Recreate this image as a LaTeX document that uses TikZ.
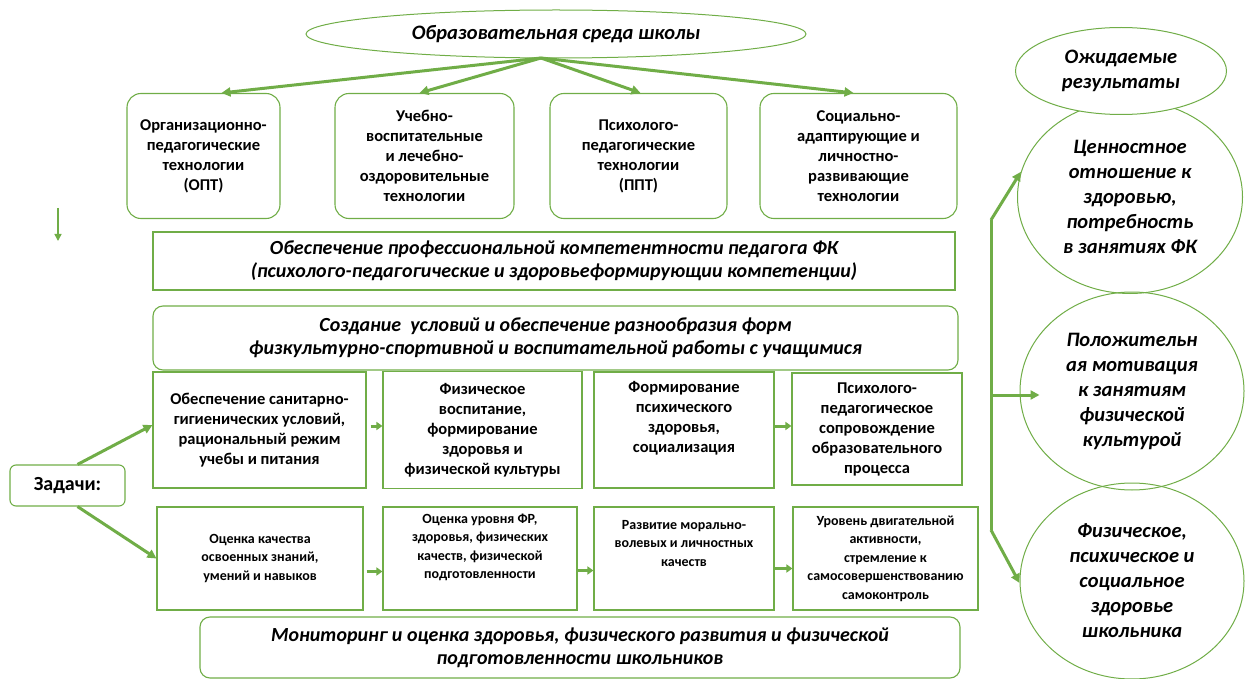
\documentclass[tikz,border=0pt]{standalone}
\usepackage{fontspec}
\setmainfont{Carlito}
\usetikzlibrary{arrows.meta,shapes.geometric,calc}
\definecolor{gr}{RGB}{112,173,71}
\begin{document}
\begin{tikzpicture}[x=1pt,y=-1pt,
  box/.style={draw=gr,line width=1.1pt,inner sep=0pt,align=center,font=\bfseries\fontsize{16.5}{20}\selectfont},
  sbox/.style={box,font=\bfseries\fontsize{14}{18.5}\selectfont},
  rbox/.style={box,rounded corners=14pt},
  band/.style={box,font=\bfseries\itshape\fontsize{20}{23}\selectfont},
  oval/.style={draw=gr,line width=1pt,ellipse,inner sep=0pt,align=center,font=\bfseries\itshape\fontsize{20.5}{25}\selectfont},
  bigarr/.style={draw=gr,line width=3pt,-{Triangle[length=9pt,width=9pt]}},
  smarr/.style={draw=gr,line width=3pt,-{Triangle[length=6pt,width=8pt]}},
  thinarr/.style={draw=gr,line width=1.6pt,-{Triangle[length=7pt,width=7pt]}}
]
\useasboundingbox (0,0) rectangle (1245,679);

% top ellipse
\node[oval,minimum width=500pt,minimum height=48pt,font=\bfseries\itshape\fontsize{20.5}{22}\selectfont] (env) at (556,34) {Образовательная среда школы};

% row 1
\node[rbox,minimum width=153pt,minimum height=125pt] (b1) at (203.5,156) {Организационно-\\педагогические\\технологии\\(ОПТ)};
\node[rbox,minimum width=179pt,minimum height=125pt] (b2) at (424.5,156) {Учебно-\\воспитательные\\и лечебно-\\оздоровительные\\технологии};
\node[rbox,minimum width=177pt,minimum height=125pt] (b3) at (638.5,156) {Психолого-\\педагогические\\технологии\\(ППТ)};
\node[rbox,minimum width=197pt,minimum height=125pt] (b4) at (858.5,156) {Социально-\\адаптирующие и\\личностно-\\развивающие\\технологии};

\coordinate (es1) at (541,58);
\draw[bigarr] (es1) -- ([xshift=18pt]b1.north);
\draw[bigarr] (es1) -- ([xshift=-5pt]b2.north);
\draw[bigarr] (es1) -- ([xshift=2pt]b3.north);
\draw[bigarr] (es1) -- ([xshift=-5pt]b4.north);

% small down arrow on the left
\coordinate (da1) at (58,208);
\coordinate (da2) at (58,241);
\draw[thinarr] (da1) -- (da2);

% bands
\node[band,minimum width=802pt,minimum height=58pt] (p1) at (554,261) {Обеспечение профессиональной компетентности педагога ФК\\(психолого-педагогические и здоровьеформирующии компетенции)};
\node[band,rounded corners=10pt,minimum width=805pt,minimum height=64pt] (p2) at (555.5,338) {Создание\ \ условий и обеспечение разнообразия форм\\физкультурно-спортивной и воспитательной работы с учащимися};

% row C
\node[box,minimum width=213pt,minimum height=116pt] (c1) at (259.5,430) {Обеспечение санитарно-\\гигиенических условий,\\рациональный режим\\учебы и питания};
\node[box,minimum width=199pt,minimum height=117pt] (c2) at (482.5,430) {Физическое\\воспитание,\\формирование\\здоровья и\\физической культуры};
\node[box,minimum width=180pt,minimum height=116pt] (c3) at (684,430) {Формирование\\психического\\здоровья,\\социализация\\[6pt]};
\node[box,minimum width=170pt,minimum height=112pt] (c4) at (877,429) {Психолого-\\педагогическое\\сопровождение\\образовательного\\процесса};
\draw[smarr] ([xshift=4pt,yshift=4pt]c1.east) -- ([yshift=4pt]c2.west);
\draw[smarr] ([yshift=4pt]c3.east) -- ([yshift=3pt]c4.west);

% row D
\node[sbox,minimum width=206pt,minimum height=103pt] (d1) at (260,558.5) {Оценка качества\\освоенных знаний,\\умений и навыков};
\node[sbox,minimum width=194pt,minimum height=103pt] (d2) at (480,558.5) {Оценка уровня ФР,\\здоровья, физических\\качеств, физической\\подготовленности\\[6pt]};
\node[sbox,minimum width=180pt,minimum height=103pt] (d3) at (684,558.5) {Развитие морально-\\волевых и личностных\\качеств\\[12pt]};
\node[sbox,minimum width=185pt,minimum height=103pt] (d4) at (885.5,558.5) {Уровень двигательной\\активности,\\стремление к\\самосовершенствованию\\самоконтроль};
\draw[smarr] ([xshift=3pt,yshift=-13pt]d1.east) -- ([yshift=-13pt]d2.west);
\draw[smarr] ([yshift=-12pt]d2.east) -- ([yshift=-12pt]d3.west);
\draw[smarr] ([yshift=-10pt]d3.east) -- ([yshift=-10pt]d4.west);

% bottom band
\node[band,rounded corners=10pt,minimum width=760pt,minimum height=61pt] (p3) at (580,647.5) {Мониторинг и оценка здоровья, физического развития и физической\\подготовленности школьников};

% tasks
\node[box,rounded corners=6pt,minimum width=115pt,minimum height=41pt,font=\bfseries\fontsize{20}{22}\selectfont] (z) at (67.5,485.5) {Задачи:};
\draw[bigarr] ([xshift=10pt]z.north) -- ([yshift=5pt]c1.west);
\draw[bigarr] ([xshift=10pt]z.south) -- (d1.west);

% right side
\node[oval,minimum width=225pt,minimum height=193pt] (r1) at (1130,197) {Ценностное\\отношение к\\здоровью,\\потребность\\в занятиях ФК};
\node[oval,minimum width=224pt,minimum height=198pt] (r2) at (1132,391) {Положительн\\ая мотивация\\к занятиям\\физической\\культурой};
\node[oval,minimum width=224pt,minimum height=196pt] (r3) at (1132,581) {Физическое,\\психическое и\\социальное\\здоровье\\школьника};
\node[oval,fill=white,minimum width=211pt,minimum height=87pt] (res) at (1121,71) {Ожидаемые\\результаты};

\coordinate (vtop) at (991,220);
\coordinate (vmid) at (991,395);
\coordinate (vbot) at (991,530);
\draw[bigarr] (vtop) -- (r1.167);
\draw[draw=gr,line width=3pt] (vtop) -- (vbot);
\draw[bigarr] (vbot) -- (r3.181);
\draw[bigarr] (vmid) -- ([xshift=20pt]r2.west |- vmid);
\end{tikzpicture}
\end{document}
